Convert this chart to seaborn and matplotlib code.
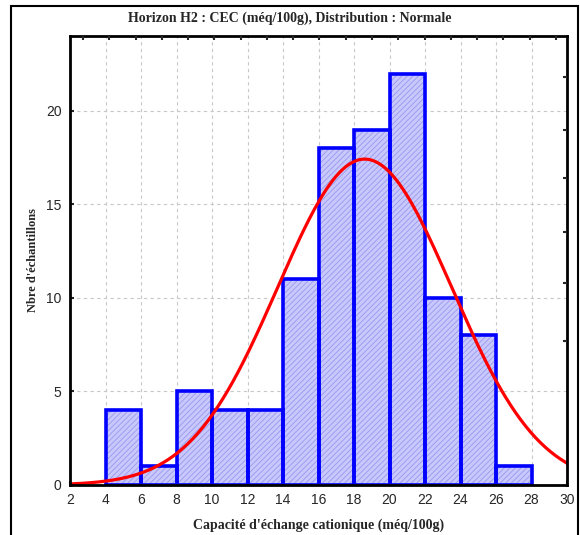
import numpy as np
import matplotlib
matplotlib.use("Agg")
import matplotlib.pyplot as plt
from matplotlib.patches import Rectangle
import seaborn as sns

# Histogram data (bins of width 2)
bin_edges = [4, 6, 8, 10, 12, 14, 16, 18, 20, 22, 24, 26, 28]
counts = [4, 1, 5, 4, 4, 11, 18, 19, 22, 10, 8, 1]
bin_centers = [5, 7, 9, 11, 13, 15, 17, 19, 21, 23, 25, 27]

# Fitted normal curve parameters
fit_mean = 18.6
fit_sd = 4.9
n_total = sum(counts)
bin_width = 2

x_ticks = list(range(2, 31, 2))
y_ticks = [0, 5, 10, 15, 20]

sns.set_style("white")
plt.rcParams["font.family"] = ["Liberation Sans", "DejaVu Sans"]
plt.rcParams["hatch.linewidth"] = 0.6
serif = ["Liberation Serif", "DejaVu Serif"]

fig = plt.figure(figsize=(5.8, 5.35), dpi=100)
ax = fig.add_axes([0.1207, 0.0935, 0.857, 0.839])

# hatched fill
sns.histplot(x=bin_centers, weights=counts, bins=bin_edges, ax=ax,
             color="#c8c8fc", edgecolor="#9898ee", linewidth=0,
             hatch="//////", alpha=1)
# blue outlines
sns.histplot(x=bin_centers, weights=counts, bins=bin_edges, ax=ax,
             fill=False, color="#0000ff", linewidth=2.6)

# normal curve
xs = np.linspace(2, 30, 300)
ys = n_total * bin_width / (fit_sd * np.sqrt(2 * np.pi)) * np.exp(-0.5 * ((xs - fit_mean) / fit_sd) ** 2)
sns.lineplot(x=xs, y=ys, ax=ax, color="#ff0000", linewidth=2.3)

ax.set_xlim(2, 30)
ax.set_ylim(0, 24)
ax.set_xticks(x_ticks)
ax.set_yticks(y_ticks)
ax.grid(True, color="#c8c8c8", linestyle=(0, (3, 3)), linewidth=0.8)
ax.set_axisbelow(True)
for s in ax.spines.values():
    s.set_linewidth(2)
    s.set_color("black")
ax.tick_params(direction="in", length=3, width=1.5, labelsize=10, pad=6)

ax.set_xlabel("Capacité d'échange cationique (méq/100g)", family=serif,
              fontsize=10, fontweight="bold", labelpad=8)
ax.set_ylabel("Nbre d'échantillons", family=serif, fontsize=9,
              fontweight="bold", labelpad=5)
fig.text(0.5, 0.966, "Horizon H2 : CEC (méq/100g), Distribution : Normale",
         family=serif, fontsize=10, fontweight="bold", ha="center", va="center")

# small inner ticks on top and right
top = ax.twiny()
top.set_xlim(2, 30)
top.set_xticks(np.arange(2.73, 30, 1.48))
top.tick_params(direction="in", length=3, width=1.5, labeltop=False)
right = ax.twinx()
right.set_ylim(0, 24)
right.set_yticks([7.7, 10.8, 13.5, 16.4, 19.0, 21.8])
right.tick_params(direction="in", length=3, width=1.5, labelright=False)
for a in (top, right):
    for s in a.spines.values():
        s.set_visible(False)

# outer frame
fig.add_artist(Rectangle((0.019, -0.02), 0.978, 1.009, transform=fig.transFigure,
                         fill=False, edgecolor="black", linewidth=1.5, clip_on=False))

fig.savefig("out.png", dpi=100)
